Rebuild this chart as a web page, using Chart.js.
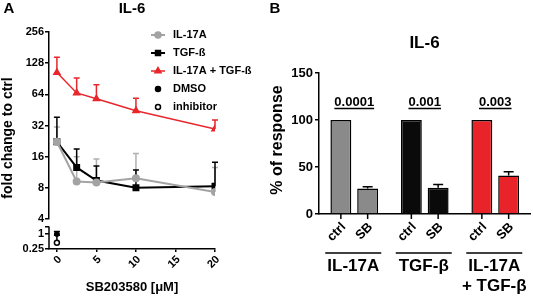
<!DOCTYPE html>
<html>
<head>
<meta charset="utf-8">
<script src="https://cdn.jsdelivr.net/npm/chart.js@4.4.0/dist/chart.umd.min.js"></script>
<style>
  body { margin: 0; background: #fff; }
  #wrap { position: relative; width: 533px; height: 298px; }
  #chartA { position: absolute; left: 0; top: 0; }
  #chartB { position: absolute; left: 270px; top: 0; }
</style>
</head>
<body>
<div id="wrap">
  <canvas id="chartA" width="270" height="298"></canvas>
  <canvas id="chartB" width="263" height="298"></canvas>
</div>
<script>
// === panel A data (fold change, log2 axis) ===
const doses = [0, 2.5, 5, 10, 20];
const il17a = [22.3, 9.2, 9.0, 9.9, 7.3];
const il17aErr = [31, 16, 15.2, 17.2, 12.6];
const tgfb = [22.3, 12.6, 9.4, 8.0, 8.3];
const tgfbErr = [38.5, 19, 13, 11.9, 14.1];
const combo = [104, 66, 58, 44.5, 29.6];
const comboErr = [146, 92, 79, 58.6, 36.2];
const dmso = [1];
const dmsoErr = [1.25];
const inhib = [0.45];
const inhibErr = [0.9];
const yTicksTop = [4, 8, 16, 32, 64, 128, 256];
const yTicksLow = [0.25, 1, 2];
const xTicksA = [0, 5, 10, 15, 20];

// === panel B data (% of response) ===
const groups = [['IL-17A'], ['TGF-β'], ['IL-17A', '+ TGF-β']];
const ctrlVals = [100, 100, 100];
const sbVals = [27, 28, 41];
const sbErr = [29, 31.5, 45];
const pValues = ['0.0001', '0.001', '0.003'];
const barColors = ['#8a8a8a', '#0a0a0a', '#e8232a'];
const barLabels = ['ctrl', 'SB'];
const yTicksB = [0, 50, 100, 150];

const FONT = '"Liberation Sans", Arial, Helvetica, sans-serif';
Chart.defaults.font.family = FONT;
Chart.defaults.font.weight = 'bold';
Chart.defaults.color = '#000';

// upward-only error bars, read from ds.errUp
const errorBars = {
  id: 'errorBars',
  beforeDatasetsDraw(chart) {
    const ctx = chart.ctx;
    chart.data.datasets.forEach((ds, i) => {
      if (!ds.errUp) return;
      const meta = chart.getDatasetMeta(i);
      const scale = chart.scales[meta.yAxisID];
      const cap = ds.errCap || 3;
      ctx.save();
      ctx.strokeStyle = ds.errColor || ds.borderColor;
      ctx.lineWidth = 1.5;
      meta.data.forEach((el, j) => {
        const v = ds.errUp[j];
        if (v == null) return;
        const yt = scale.getPixelForValue(v);
        ctx.beginPath();
        ctx.moveTo(el.x, el.y);
        ctx.lineTo(el.x, yt);
        ctx.moveTo(el.x - cap, yt);
        ctx.lineTo(el.x + cap, yt);
        ctx.stroke();
      });
      ctx.restore();
    });
  }
};

function txt(ctx, s, x, y, size, align, rot) {
  ctx.save();
  ctx.font = 'bold ' + size + 'px ' + FONT;
  ctx.fillStyle = '#000';
  ctx.textAlign = align || 'center';
  ctx.textBaseline = 'middle';
  ctx.translate(x, y);
  if (rot) ctx.rotate(rot);
  ctx.fillText(s, 0, 0);
  ctx.restore();
}

const decorA = {
  id: 'decorA',
  afterDraw(chart) {
    const ctx = chart.ctx;
    const low = chart.scales.yLow;
    // broken lower axis segment
    ctx.save();
    ctx.strokeStyle = '#000';
    ctx.lineWidth = 1.5;
    ctx.beginPath();
    ctx.moveTo(low.right, low.getPixelForValue(2));
    ctx.lineTo(low.right, low.bottom);
    ctx.stroke();
    ctx.restore();

    txt(ctx, 'A', 9, 9, 15);
    txt(ctx, 'IL-6', 132, 9, 15);
    txt(ctx, 'fold change to ctrl', 8, 138, 14, 'center', -Math.PI / 2);

    // legend
    chart.data.datasets.forEach((ds, i) => {
      const y = 35 + i * 18;
      ctx.save();
      ctx.strokeStyle = ds.borderColor;
      ctx.fillStyle = ds.pointBackgroundColor;
      ctx.lineWidth = ds.borderWidth || 1.5;
      if (ds.showLine !== false) {
        ctx.beginPath();
        ctx.moveTo(151, y);
        ctx.lineTo(165, y);
        ctx.stroke();
      }
      ctx.lineWidth = 1.5;
      Chart.helpers.drawPoint(ctx, { pointStyle: ds.pointStyle, radius: ds.pointRadius, rotation: 0, borderWidth: 1.5 }, 158, y);
      ctx.restore();
      txt(ctx, ds.label, 173, y, 11, 'left');
    });
  }
};

const logTickLabel = v => String(v);

new Chart(document.getElementById('chartA'), {
  type: 'line',
  data: {
    datasets: [
      { label: 'IL-17A', data: doses.map((d, i) => ({ x: d, y: il17a[i] })), errUp: il17aErr,
        borderColor: '#a3a3a3', errColor: '#b0b0b0', pointBackgroundColor: '#a3a3a3', pointBorderColor: '#a3a3a3',
        borderWidth: 2, pointStyle: 'circle', pointRadius: 3, yAxisID: 'y' },
      { label: 'TGF-ß', data: doses.map((d, i) => ({ x: d, y: tgfb[i] })), errUp: tgfbErr,
        borderColor: '#000', pointBackgroundColor: '#000', pointBorderColor: '#000',
        borderWidth: 2, pointStyle: 'rect', pointRadius: 3.5, yAxisID: 'y' },
      { label: 'IL-17A + TGF-ß', data: doses.map((d, i) => ({ x: d, y: combo[i] })), errUp: comboErr,
        borderColor: '#e8262c', pointBackgroundColor: '#e8262c', pointBorderColor: '#e8262c',
        borderWidth: 1.5, pointStyle: 'triangle', pointRadius: 3.5, yAxisID: 'y' },
      { label: 'DMSO', data: dmso.map(v => ({ x: 0, y: v })), errUp: dmsoErr, showLine: false,
        borderColor: '#000', pointBackgroundColor: '#000', pointBorderColor: '#000',
        pointStyle: 'circle', pointRadius: 2.5, yAxisID: 'yLow' },
      { label: 'inhibitor', data: inhib.map(v => ({ x: 0, y: v })), errUp: inhibErr, showLine: false,
        borderColor: '#000', pointBackgroundColor: '#fff', pointBorderColor: '#000', pointBorderWidth: 1.5,
        pointStyle: 'circle', pointRadius: 2.5, yAxisID: 'yLow' }
    ]
  },
  options: {
    responsive: false,
    animation: false,
    layout: { padding: { left: 0, top: 32, right: 55, bottom: 0 } },
    plugins: { legend: { display: false }, tooltip: { enabled: false } },
    scales: {
      x: {
        type: 'linear', min: -1, max: 20,
        afterBuildTicks: s => { s.ticks = xTicksA.map(v => ({ value: v })); },
        ticks: { minRotation: 45, maxRotation: 45, autoSkip: false, font: { size: 11, weight: 'bold' }, padding: 1, labelOffset: 3 },
        grid: { display: true, drawOnChartArea: false, tickLength: 3, color: '#000', lineWidth: 1.5 },
        border: { display: true, color: '#000', width: 1.5 },
        title: { display: true, text: 'SB203580 [μM]', font: { size: 13, weight: 'bold' }, padding: { top: 0, bottom: 3 } },
        afterFit: s => { s.height = 49; }
      },
      yLow: {
        type: 'logarithmic', position: 'left', stack: 'left', stackWeight: 30, weight: 0,
        min: 0.25, max: 4,
        afterBuildTicks: s => { s.ticks = yTicksLow.map(v => ({ value: v })); },
        ticks: { autoSkip: false, font: { size: 11, weight: 'bold' }, padding: 1, callback: v => (v === 2 ? '' : logTickLabel(v)) },
        grid: { display: true, drawOnChartArea: false, tickLength: 4, color: '#000', lineWidth: 1.5 },
        border: { display: false },
        afterFit: s => { s.width = 49; }
      },
      y: {
        type: 'logarithmic', position: 'left', stack: 'left', stackWeight: 187, weight: 1,
        min: 4, max: 256,
        afterBuildTicks: s => { s.ticks = yTicksTop.map(v => ({ value: v })); },
        ticks: { autoSkip: false, font: { size: 11, weight: 'bold' }, padding: 1, callback: logTickLabel },
        grid: { display: true, drawOnChartArea: false, tickLength: 4, color: '#000', lineWidth: 1.5 },
        border: { display: true, color: '#000', width: 1.5 },
        afterFit: s => { s.width = 49; }
      }
    }
  },
  plugins: [errorBars, decorA]
});

const decorB = {
  id: 'decorB',
  afterDraw(chart) {
    const ctx = chart.ctx;
    const xs = chart.scales.x;
    const base = chart.chartArea.bottom;

    txt(ctx, 'B', 5, 9, 15);
    txt(ctx, 'IL-6', 154.5, 43, 17);
    txt(ctx, '% of response', 8, 140, 16, 'center', -Math.PI / 2);

    ctx.save();
    ctx.strokeStyle = '#000';
    ctx.lineWidth = 1.5;
    groups.forEach((g, i) => {
      const cx = xs.getPixelForValue(i);
      // p value with underline
      ctx.font = 'bold 13px ' + FONT;
      const w = ctx.measureText(pValues[i]).width;
      txt(ctx, pValues[i], cx, 102.5, 13);
      ctx.beginPath();
      ctx.moveTo(cx - w / 2, 108.5);
      ctx.lineTo(cx + w / 2, 108.5);
      ctx.stroke();
      // group line and label
      ctx.beginPath();
      ctx.moveTo(cx - 29, base + 39);
      ctx.lineTo(cx + 27, base + 39);
      ctx.stroke();
      g.forEach((line, k) => txt(ctx, line, cx - 1, base + 52 + k * 20, 17));
    });
    // per bar tick and rotated label
    chart.data.datasets.forEach((ds, d) => {
      chart.getDatasetMeta(d).data.forEach(el => {
        ctx.beginPath();
        ctx.moveTo(el.x, base);
        ctx.lineTo(el.x, base + 5);
        ctx.stroke();
        txt(ctx, barLabels[d], el.x + 3, base + 11, 13, 'right', -Math.PI / 4);
      });
    });
    ctx.restore();
  }
};

new Chart(document.getElementById('chartB'), {
  type: 'bar',
  data: {
    labels: groups.map(g => g.join(' ')),
    datasets: [
      { label: 'ctrl', data: ctrlVals, backgroundColor: barColors, borderColor: '#000', borderWidth: 1.5,
        categoryPercentage: 0.76, barPercentage: 0.78 },
      { label: 'SB', data: sbVals, errUp: sbErr, errCap: 5, errColor: '#000', backgroundColor: barColors,
        borderColor: '#000', borderWidth: 1.5, categoryPercentage: 0.76, barPercentage: 0.78 }
    ]
  },
  options: {
    responsive: false,
    animation: false,
    layout: { padding: { left: 0, top: 73, right: 2.5, bottom: 0 } },
    plugins: { legend: { display: false }, tooltip: { enabled: false } },
    scales: {
      x: {
        ticks: { display: false },
        grid: { display: false },
        border: { display: true, color: '#000', width: 1.5 },
        afterFit: s => { s.height = 84; }
      },
      y: {
        min: 0, max: 150,
        afterBuildTicks: s => { s.ticks = yTicksB.map(v => ({ value: v })); },
        ticks: { font: { size: 13, weight: 'bold' }, padding: 2 },
        grid: { display: true, drawOnChartArea: false, tickLength: 4, color: '#000', lineWidth: 1.5 },
        border: { display: true, color: '#000', width: 1.5 },
        afterFit: s => { s.width = 49; }
      }
    }
  },
  plugins: [errorBars, decorB]
});
</script>
</body>
</html>
